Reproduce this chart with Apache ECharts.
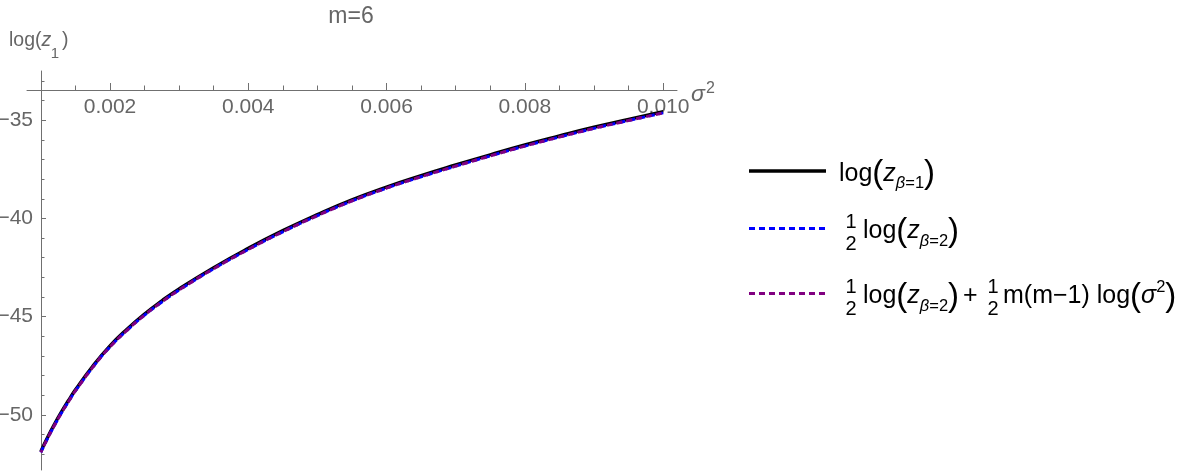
<!DOCTYPE html>
<html>
<head>
<meta charset="utf-8">
<script src="https://cdn.jsdelivr.net/npm/echarts@6/dist/echarts.min.js"></script>
<style>
  html, body { margin: 0; padding: 0; background: #fff; }
  #chart { width: 1190px; height: 476px; }
</style>
</head>
<body>
<div id="chart"></div>
<script>
// values (sigma^2 on x, log z on y)
const sigma2 = [0.001, 0.0011, 0.0012, 0.0013, 0.0014, 0.0015, 0.00175, 0.002, 0.00225, 0.0025, 0.00275, 0.003,
  0.0035, 0.004, 0.0045, 0.005, 0.0055, 0.006, 0.0065, 0.007, 0.0075, 0.008, 0.0085, 0.009, 0.0095, 0.010];
const logZBeta1 = [-51.85, -51.12, -50.45, -49.83, -49.26, -48.72, -47.52, -46.48, -45.62, -44.86, -44.19, -43.58,
  -42.5, -41.52, -40.62, -39.8, -39.05, -38.4, -37.82, -37.28, -36.76, -36.26, -35.8, -35.36, -34.96, -34.57];
const halfLogZBeta2 = [-51.9, -51.18, -50.51, -49.89, -49.32, -48.78, -47.58, -46.54, -45.68, -44.92, -44.25, -43.64,
  -42.56, -41.58, -40.68, -39.86, -39.11, -38.46, -37.88, -37.34, -36.82, -36.32, -35.86, -35.42, -35.02, -34.63];
const halfLogZBeta2Shifted = [-51.9, -51.18, -50.51, -49.89, -49.32, -48.78, -47.58, -46.54, -45.68, -44.92, -44.25, -43.64,
  -42.56, -41.58, -40.68, -39.86, -39.11, -38.46, -37.88, -37.34, -36.82, -36.32, -35.86, -35.42, -35.02, -34.63];

const xMajorTicks = [0.002, 0.004, 0.006, 0.008, 0.010];
const xMinorTicks = [0.0015, 0.0025, 0.003, 0.0035, 0.0045, 0.005, 0.0055, 0.0065, 0.007, 0.0075, 0.0085, 0.009, 0.0095];
const yMajorTicks = [-50, -45, -40, -35];
const yMinorTicks = [-52, -51, -49, -48, -47, -46, -44, -43, -42, -41, -39, -38, -37, -36, -34, -33];

const FONT = '"Liberation Sans", Arial, Helvetica, sans-serif';
const AXIS = '#707070';
const TXT = '#666666';

const pairs = ys => sigma2.map((x, i) => [x, ys[i]]);

const chart = echarts.init(document.getElementById('chart'), null, { renderer: 'canvas' });

const xBase = {
  type: 'value',
  min: 0.0008,
  max: 0.0102,
  position: 'top',
  offset: -19,
  splitLine: { show: false }
};
const yBase = {
  type: 'value',
  min: -52.8,
  max: -32.5,
  position: 'left',
  offset: -14,
  splitLine: { show: false }
};

const legendRich = {
  f: { fontSize: 25, fontFamily: FONT, fill: '#000', lineHeight: 36 },
  p: { fontSize: 33, fontFamily: FONT, fill: '#000', lineHeight: 36 },
  i: { fontSize: 25, fontFamily: FONT, fontStyle: 'italic', fill: '#000', lineHeight: 36 },
  si: { fontSize: 16.5, fontFamily: FONT, fontStyle: 'italic', fill: '#000', lineHeight: 20, verticalAlign: 'bottom' },
  s: { fontSize: 16.5, fontFamily: FONT, fill: '#000', lineHeight: 20, verticalAlign: 'bottom' },
  sup: { fontSize: 16.5, fontFamily: FONT, fill: '#000', lineHeight: 20, verticalAlign: 'top' }
};

function txt(x, y, text, size, extra) {
  return {
    type: 'text',
    x: x,
    y: y,
    silent: true,
    style: Object.assign({
      text: text,
      fontSize: size,
      fontFamily: FONT,
      fill: '#000',
      align: 'left',
      verticalAlign: 'middle',
      textAlign: 'left',
      textVerticalAlign: 'middle'
    }, extra || {})
  };
}

function legendLine(y, color, dash, width) {
  return {
    type: 'line',
    silent: true,
    shape: { x1: 749, y1: y, x2: 826, y2: y },
    style: { stroke: color, lineWidth: width, lineDash: dash }
  };
}

function half(cx, y) {
  return [
    txt(cx, y - 11, '1', 20, { align: 'center', textAlign: 'center' }),
    txt(cx, y + 11, '2', 20, { align: 'center', textAlign: 'center' })
  ];
}

const graphics = [
  // title and axis names
  txt(351, 17, 'm=6', 23, { fill: TXT, align: 'center', textAlign: 'center' }),
  txt(9, 41, '{a|log(}{b|z}', 19, {
    fill: TXT,
    rich: {
      a: { fontSize: 19.5, fontFamily: FONT, fill: TXT },
      b: { fontSize: 19.5, fontFamily: FONT, fontStyle: 'italic', fill: TXT }
    }
  }),
  txt(55, 54, '1', 15, { fill: TXT, align: 'center', textAlign: 'center' }),
  txt(62, 41, ')', 19.5, { fill: TXT }),
  txt(691, 95, 'σ', 23, { fill: TXT, fontStyle: 'italic' }),
  txt(706, 89, '2', 16, { fill: TXT }),

  // legend
  legendLine(171, '#000000', null, 3.5),
  legendLine(228.5, '#0000ff', [6, 4], 3),
  legendLine(293.5, '#800080', [6, 4], 3),
  txt(839, 174, '{f|log}{p|(}{i|z}{si|β}{s|=1}{p|)}', 25, { rich: legendRich }),
  ...half(851, 233),
  txt(863, 231.5, '{f|log}{p|(}{i|z}{si|β}{s|=2}{p|)}', 25, { rich: legendRich }),
  ...half(851, 298),
  txt(863, 296.5, '{f|log}{p|(}{i|z}{si|β}{s|=2}{p|)}', 25, { rich: legendRich }),
  txt(963, 296.5, '+', 25),
  ...half(993, 298),
  txt(1003, 296.5, '{f|m(m\u22121) log}{p|(}{i|σ}{sup|2}{p|)}', 25, { rich: legendRich })
];

const option = {
  animation: false,
  backgroundColor: '#fff',
  grid: {
    left: 27,
    top: 71,
    right: 513,
    bottom: 6,
    outerBoundsMode: 'none'
  },
  xAxis: [
    Object.assign({}, xBase, {
      axisLine: { lineStyle: { color: AXIS, width: 1 } },
      axisTick: { length: 7, lineStyle: { color: AXIS }, customValues: xMajorTicks },
      axisLabel: {
        inside: true,
        margin: 7,
        color: TXT,
        fontSize: 21,
        fontFamily: FONT,
        customValues: xMajorTicks,
        formatter: v => v.toFixed(3)
      }
    }),
    Object.assign({}, xBase, {
      axisLine: { show: false },
      axisTick: { length: 4.5, lineStyle: { color: AXIS }, customValues: xMinorTicks },
      axisLabel: { show: false }
    })
  ],
  yAxis: [
    Object.assign({}, yBase, {
      axisLine: { lineStyle: { color: AXIS, width: 1 } },
      axisTick: { inside: true, length: 5, lineStyle: { color: AXIS }, customValues: yMajorTicks },
      axisLabel: {
        margin: 8,
        color: TXT,
        fontSize: 21,
        fontFamily: FONT,
        customValues: yMajorTicks,
        formatter: v => String(v).replace('-', '\u2212')
      }
    }),
    Object.assign({}, yBase, {
      axisLine: { show: false },
      axisTick: { inside: true, length: 3.5, lineStyle: { color: AXIS }, customValues: yMinorTicks },
      axisLabel: { show: false }
    })
  ],
  graphic: graphics,
  series: [
    {
      name: 'log(z_β=1)',
      type: 'line',
      data: pairs(logZBeta1),
      symbol: 'none',
      smooth: 0.5,
      lineStyle: { color: '#000000', width: 3.3 },
      z: 2
    },
    {
      name: '1/2 log(z_β=2)',
      type: 'line',
      data: pairs(halfLogZBeta2),
      symbol: 'none',
      smooth: 0.5,
      lineStyle: { color: '#0000ff', width: 3, type: [6, 4] },
      z: 3
    },
    {
      name: '1/2 log(z_β=2) + 1/2 m(m-1) log(σ²)',
      type: 'line',
      data: pairs(halfLogZBeta2Shifted),
      symbol: 'none',
      smooth: 0.5,
      lineStyle: { color: '#800080', width: 3, type: [6, 4], dashOffset: 3 },
      z: 4
    }
  ]
};

chart.setOption(option);
</script>
</body>
</html>
